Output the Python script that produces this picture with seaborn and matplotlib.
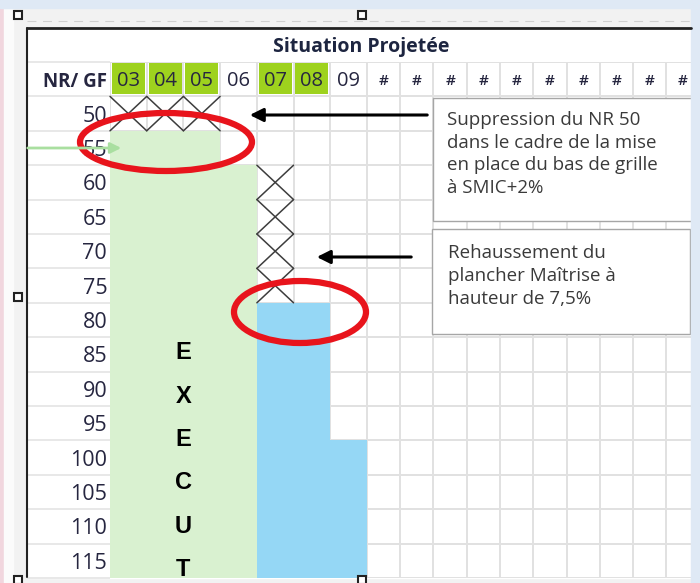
import numpy as np
import matplotlib.pyplot as plt
import seaborn as sns
from matplotlib.colors import ListedColormap
from matplotlib.patches import Rectangle, Ellipse

# Data read from the spreadsheet
levels = [50, 55, 60, 65, 70, 75, 80, 85, 90, 95, 100, 105, 110, 115]
grades = ['03', '04', '05', '06', '07', '08', '09']
extra_cols = ['#'] * 10
green_from = [55, 55, 55, 60, None, None, None]
blue_from = [None, None, None, None, 80, 80, 100]
header_hi = ['03', '04', '05', '07', '08']
crossed = [('03', 50), ('04', 50), ('05', 50),
           ('07', 60), ('07', 65), ('07', 70), ('07', 75)]
title = 'Situation Projetée'
word = 'EXECUT'
note1 = 'Suppression du NR 50\ndans le cadre de la mise\nen place du bas de grille\nà SMIC+2%'
note2 = 'Rehaussement du\nplancher Maîtrise à\nhauteur de 7,5%'

sns.set_theme(style='white')
plt.rcParams['font.family'] = ['Open Sans', 'DejaVu Sans']

W, H = 700, 583
LIGHT_GREEN = '#d9f1d0'
BLUE = '#95d7f5'
HEAD_GREEN = '#9ed21e'
GRID = '#e1e1e1'
TXT = '#262640'

fig = plt.figure(figsize=(W / 100, H / 100), dpi=100, facecolor='#f2f2f2')

# background frame
bg = fig.add_axes([0, 0, 1, 1], zorder=0)
bg.set_xlim(0, W)
bg.set_ylim(H, 0)
bg.axis('off')
bg.add_patch(Rectangle((0, 0), 4, H, color='#f1d6de'))
bg.add_patch(Rectangle((4, 8), 9, H, color='#fbfbfb'))
bg.add_patch(Rectangle((27, 28), 664, 550, color='white'))
bg.plot([27, 691], [21, 21], color='#d0d0d0', lw=0.8, ls=(0, (8, 6)))

nrow = len(levels) + 1
top_px, bot_px = 62, 578


def cell_block(x0, x1, cols, fill):
    ax = fig.add_axes([x0 / W, (H - bot_px) / H, (x1 - x0) / W, (bot_px - top_px) / H], zorder=1)
    base = np.zeros((nrow, len(cols)))
    sns.heatmap(base, ax=ax, cmap=ListedColormap(['white']), linewidths=1.1,
                linecolor=GRID, cbar=False, xticklabels=False, yticklabels=False)
    if fill.any():
        sns.heatmap(fill, ax=ax, mask=fill == 0, cmap=ListedColormap([LIGHT_GREEN, BLUE]),
                    vmin=0.5, vmax=2.5, linewidths=0, cbar=False,
                    xticklabels=False, yticklabels=False)
    for j, c in enumerate(cols):
        if c in header_hi:
            ax.add_patch(Rectangle((j + 0.05, 0.04), 0.9, 0.9, color=HEAD_GREEN, lw=0))
        ax.text(j + 0.5, 0.55, c, ha='center', va='center', color=TXT,
                fontsize=14.5 if c != '#' else 11,
                fontweight='semibold' if c == '#' else 'normal')
    return ax


# fill codes for the grade columns
fill_a = np.zeros((nrow, len(grades)))
for j, g in enumerate(grades):
    for i, lv in enumerate(levels):
        if green_from[j] is not None and lv >= green_from[j]:
            fill_a[i + 1, j] = 1
        if blue_from[j] is not None and lv >= blue_from[j]:
            fill_a[i + 1, j] = 2

axA = cell_block(110, 367, grades, fill_a)
axB = cell_block(367, 699.5, extra_cols, np.zeros((nrow, len(extra_cols))))

# row labels
axA.set_yticks(np.arange(nrow) + 0.5)
axA.set_yticklabels(['NR/ GF'] + [str(v) for v in levels], rotation=0,
                    color=TXT, fontsize=15.5)
axA.get_yticklabels()[0].set_fontweight('bold')
axA.get_yticklabels()[0].set_fontsize(13.5)
axA.tick_params(left=False, length=0, pad=2)
col_w = (367 - 110) / len(grades)
axA.hlines(np.arange(0, nrow + 1), -83 / col_w, 0, colors=GRID, lw=1.1, clip_on=False)

# crossed cells
for g, lv in crossed:
    j = grades.index(g)
    i = levels.index(lv) + 1
    axA.plot([j, j + 1], [i, i + 1], color='#3d3d3d', lw=1.1, clip_on=False)
    axA.plot([j, j + 1], [i + 1, i], color='#3d3d3d', lw=1.1, clip_on=False)

# vertical word
axA.text(2.0, 8.12, '\n'.join(word), ha='center', va='top', linespacing=2.13,
         fontsize=17, fontweight='bold', family='Liberation Sans', color='black',
         clip_on=True)

# overlay: title, frame, notes, arrows, circles
ov = fig.add_axes([0, 0, 1, 1], zorder=3)
ov.set_xlim(0, W)
ov.set_ylim(H, 0)
ov.axis('off')
ov.patch.set_alpha(0)

ov.text(361, 47, title, ha='center', va='center', fontsize=14,
        fontweight='bold', color='#1d2540')
ov.plot([27, 691], [28, 28], color='#222222', lw=2)
ov.plot([27, 27], [28, 577], color='#222222', lw=1.5)

ov.add_patch(Rectangle((433, 98), 280, 123, facecolor='white', edgecolor='#a6a6a6', lw=1))
ov.add_patch(Rectangle((432, 229), 258, 105, facecolor='white', edgecolor='#a6a6a6', lw=1))
ov.text(447, 111, note1, ha='left', va='top', fontsize=13.5, color='#3a3a3a', linespacing=1.33)
ov.text(448, 244, note2, ha='left', va='top', fontsize=13.5, color='#3a3a3a', linespacing=1.36)

ov.annotate('', xy=(247, 115), xytext=(430, 115),
            arrowprops=dict(arrowstyle='-|>', color='black', lw=2.2, mutation_scale=20))
ov.annotate('', xy=(314, 257), xytext=(414, 257),
            arrowprops=dict(arrowstyle='-|>', color='black', lw=2.2, mutation_scale=20))
ov.annotate('', xy=(124, 148), xytext=(25, 148),
            arrowprops=dict(arrowstyle='-|>', color='#a9dfa0', lw=2, mutation_scale=16))

ov.add_patch(Ellipse((166, 142), 172, 58, fill=False, edgecolor='#e8141c', lw=4.5))
ov.add_patch(Ellipse((300, 312), 132, 62, fill=False, edgecolor='#e8141c', lw=4.5))

# window strips and handles
ov.add_patch(Rectangle((691, 0), 9, H, color='#dfe9f5'))
ov.add_patch(Rectangle((0, 0), W, 8, color='#dfe9f5'))
for hx, hy in [(18, 15), (362, 15), (18, 297), (18, 580), (362, 580)]:
    ov.add_patch(Rectangle((hx - 4, hy - 4), 8, 8, facecolor='white', edgecolor='#222222', lw=1.5))

fig.savefig('out.png', dpi=100)
